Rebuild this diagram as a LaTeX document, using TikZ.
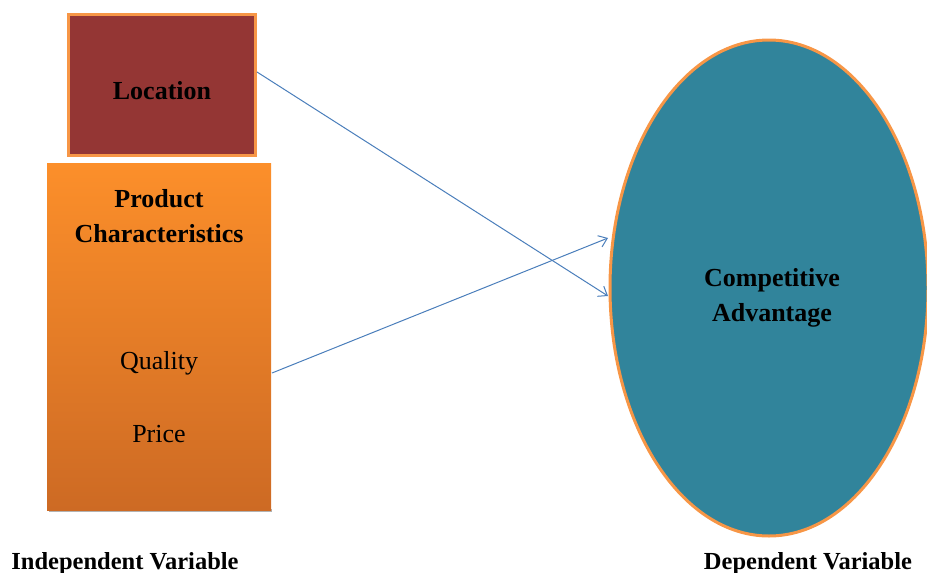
\documentclass[tikz,border=0pt]{standalone}
\usepackage{fontspec}
\setmainfont{Liberation Serif}
\usetikzlibrary{arrows.meta,shapes.geometric}
\definecolor{locred}{HTML}{943634}
\definecolor{bord}{HTML}{F79646}
\definecolor{teal}{HTML}{31849B}
\definecolor{otop}{RGB}{252,143,42}
\definecolor{obot}{RGB}{205,106,36}
\definecolor{arr}{HTML}{4A7EBB}
\tikzset{
  lbl/.style={font=\fontsize{26}{31}\selectfont, align=center, inner sep=0pt},
  blbl/.style={lbl, font=\fontsize{26}{35}\selectfont\bfseries},
  foot/.style={font=\fontsize{24.5}{29}\selectfont\bfseries, inner sep=0pt, anchor=base},
  conn/.style={draw=arr, line width=1pt, -{Straight Barb[length=8pt,width=12pt]}}
}
\begin{document}
\begin{tikzpicture}[x=1pt,y=-1pt]
\useasboundingbox (0,0) rectangle (927,573);
\clip (0,0) rectangle (927,573);
% location box
\node[draw=bord, line width=3pt, fill=locred, minimum width=187pt, minimum height=141pt, inner sep=0pt] (loc) at (162,85) {};
\node[blbl] (loct) at (162,91) {Location};
% product box
\fill[gray!60] (49,509) rectangle (272,512);
\node[top color=otop, bottom color=obot, minimum width=224pt, minimum height=347pt, inner sep=0pt] (prod) at (159,336.5) {};
\node[blbl] (prodt) at (159,216) {Product\\Characteristics};
\node[lbl] (qual) at (159,363) {Quality};
\node[lbl] (price) at (159,434) {Price};
% ellipse
\node[ellipse, draw=bord, line width=3pt, fill=teal, minimum width=318pt, minimum height=496pt, inner sep=0pt] (ca) at (769,288) {};
\node[blbl] (cat) at (772,298) {Competitive\\Advantage};
% connectors
\coordinate (a1s) at (257,72);
\coordinate (a1e) at (608,296);
\coordinate (a2s) at (272,373);
\coordinate (a2e) at (608,238);
\draw[conn] (a1s) -- (a1e);
\draw[conn] (a2s) -- (a2e);
% footers
\node[foot] (iv) at (125,569) {Independent Variable};
\node[foot] (dv) at (808,569) {Dependent Variable};
\end{tikzpicture}
\end{document}
